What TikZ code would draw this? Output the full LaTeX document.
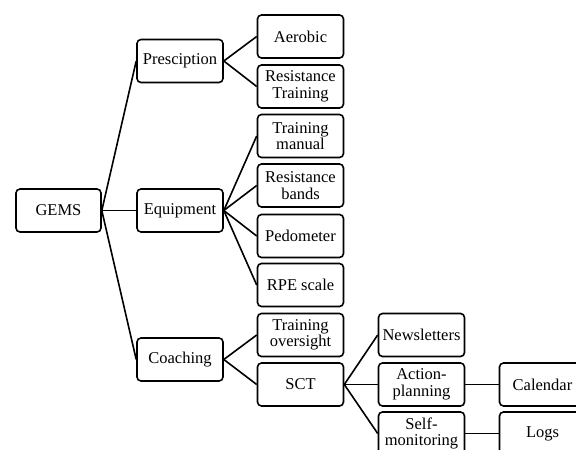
\documentclass[tikz,border=0pt]{standalone}
\usepackage{fontspec}
\setmainfont{Liberation Serif}
\begin{document}
\begin{tikzpicture}[x=1pt,y=-1pt,
  box/.style={draw, line width=1.6pt, rounded corners=4pt, minimum width=86pt, minimum height=43pt, inner sep=1pt, align=center, font=\fontsize{16.5}{16.5}\selectfont},
  link/.style={line width=1.6pt}]
\path[use as bounding box] (0,0) rectangle (576,450);
\clip (0,0) rectangle (576,450);
\node[box, minimum width=85pt] (gems) at (58.5,210.5) {GEMS};
\node[box] (pres) at (180,61) {Presciption};
\node[box] (equip) at (180,210.5) {Equipment};
\node[box] (coach) at (180,359.5) {Coaching};
\node[box] (aer) at (300.5,36.5) {Aerobic};
\node[box] (rt) at (300.5,86.5) {Resistance\\Training};
\node[box] (tm) at (300.5,136) {Training\\manual};
\node[box] (rb) at (300.5,185.5) {Resistance\\bands};
\node[box] (ped) at (300.5,236) {Pedometer};
\node[box] (rpe) at (300.5,285) {RPE scale};
\node[box] (to) at (300.5,335) {Training\\oversight};
\node[box] (sct) at (300.5,384.5) {SCT};
\node[box] (news) at (421.5,335) {Newsletters};
\node[box] (ap) at (421.5,384.5) {Action-\\planning};
\node[box] (sm) at (421.5,433.5) {Self-\\monitoring};
\node[box] (cal) at (542.5,384.5) {Calendar};
\node[box] (logs) at (542.5,433.5) {Logs};
\foreach \a/\b in {gems/pres,gems/equip,gems/coach,pres/aer,pres/rt,equip/tm,equip/rb,equip/ped,equip/rpe,coach/to,coach/sct,sct/news,sct/ap,sct/sm,ap/cal,sm/logs}
  \draw[link] (\a.east) -- (\b.west);
\end{tikzpicture}
\end{document}
